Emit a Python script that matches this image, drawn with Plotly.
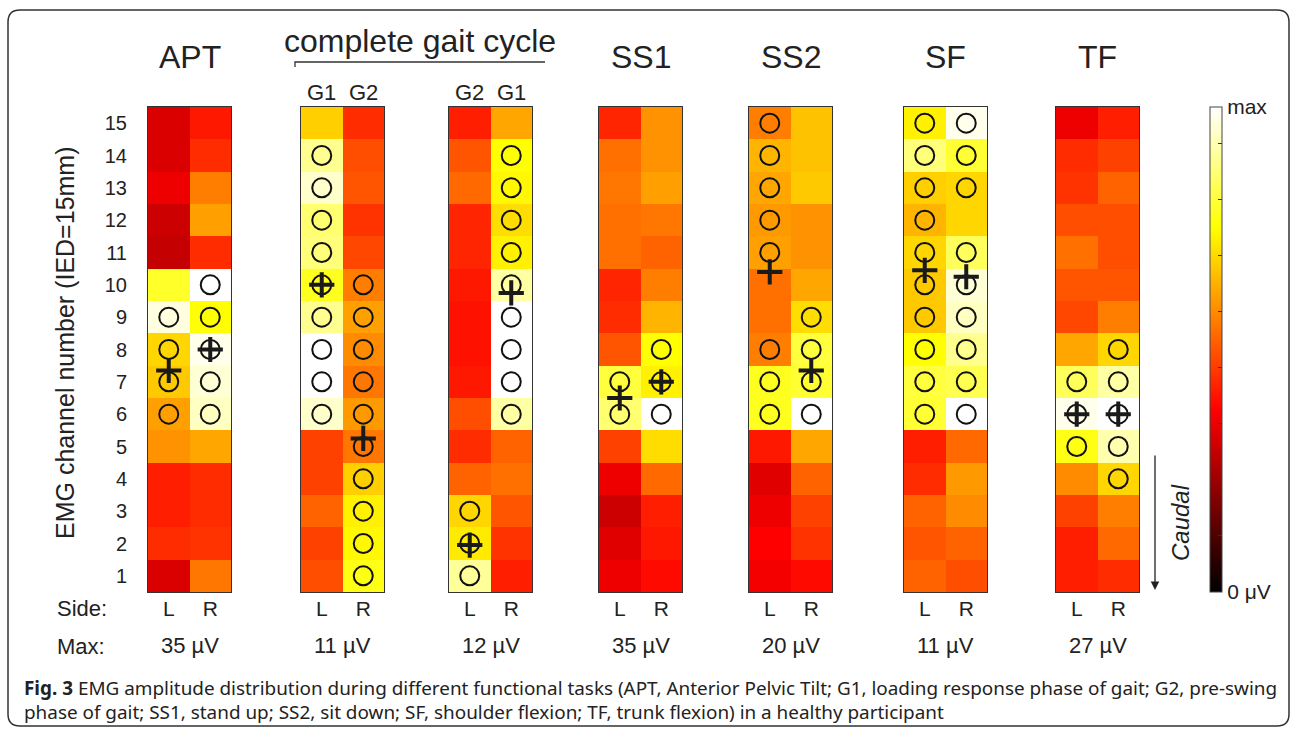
import plotly.graph_objects as go

W, H = 1296, 731

# ---------------- data ----------------
channels = list(range(1, 16))          # EMG channel numbers (bottom -> top)
side_labels = ["L", "R"]

panel_titles = ["APT", "", "", "SS1", "SS2", "SF", "TF"]
max_labels = ["35 µV", "11 µV", "12 µV", "35 µV", "20 µV", "11 µV", "27 µV"]
gait_top_labels = [("G1", "G2"), ("G2", "G1")]

# normalised amplitude (0 = 0 µV, 1 = max), channel 1 -> 15
apt_L = [0.32, 0.44, 0.42, 0.42, 0.59, 0.61, 0.67, 0.69, 0.97, 0.79, 0.29, 0.30, 0.35, 0.32, 0.32]
apt_R = [0.55, 0.45, 0.44, 0.44, 0.62, 0.94, 0.96, 0.98, 0.75, 1.00, 0.44, 0.61, 0.56, 0.44, 0.41]
g12_L = [0.49, 0.47, 0.52, 0.47, 0.47, 0.95, 1.00, 1.00, 0.89, 0.78, 0.87, 0.86, 0.95, 0.89, 0.68]
g12_R = [0.77, 0.74, 0.73, 0.68, 0.55, 0.60, 0.55, 0.58, 0.61, 0.56, 0.48, 0.45, 0.50, 0.49, 0.44]
g21_L = [0.90, 0.72, 0.69, 0.52, 0.44, 0.49, 0.41, 0.40, 0.40, 0.41, 0.43, 0.43, 0.53, 0.50, 0.42]
g21_R = [0.42, 0.45, 0.50, 0.54, 0.52, 0.91, 1.00, 1.00, 1.00, 0.91, 0.73, 0.70, 0.74, 0.75, 0.62]
ss1_L = [0.35, 0.33, 0.30, 0.35, 0.47, 0.86, 0.81, 0.50, 0.44, 0.43, 0.54, 0.54, 0.55, 0.54, 0.43]
ss1_R = [0.39, 0.41, 0.42, 0.53, 0.70, 1.00, 0.73, 0.75, 0.64, 0.56, 0.52, 0.55, 0.61, 0.59, 0.59]
ss2_L = [0.36, 0.375, 0.35, 0.33, 0.41, 0.78, 0.78, 0.56, 0.54, 0.54, 0.61, 0.60, 0.62, 0.64, 0.56]
ss2_R = [0.39, 0.45, 0.47, 0.52, 0.62, 1.00, 0.80, 0.81, 0.70, 0.62, 0.59, 0.59, 0.67, 0.66, 0.66]
sf_L = [0.52, 0.50, 0.52, 0.44, 0.42, 0.80, 0.81, 0.75, 0.67, 0.67, 0.69, 0.64, 0.68, 0.87, 0.73]
sf_R = [0.49, 0.52, 0.58, 0.60, 0.53, 1.00, 0.83, 0.89, 0.94, 0.96, 0.84, 0.69, 0.69, 0.80, 0.98]
tf_L = [0.42, 0.42, 0.47, 0.58, 0.77, 0.98, 0.84, 0.62, 0.48, 0.50, 0.54, 0.49, 0.45, 0.44, 0.35]
tf_R = [0.44, 0.53, 0.56, 0.69, 0.92, 1.00, 0.91, 0.69, 0.56, 0.50, 0.49, 0.49, 0.52, 0.47, 0.42]

# channels marked with circles (active region)
apt_L_act = [6, 7, 8, 9]
apt_R_act = [6, 7, 8, 9, 10]
g12_L_act = [6, 7, 8, 9, 10, 11, 12, 13, 14]
g12_R_act = [1, 2, 3, 4, 5, 6, 7, 8, 9, 10]
g21_L_act = [1, 2, 3]
g21_R_act = [6, 7, 8, 9, 10, 11, 12, 13, 14]
ss1_L_act = [6, 7]
ss1_R_act = [6, 7, 8]
ss2_L_act = [6, 7, 8, 11, 12, 13, 14, 15]
ss2_R_act = [6, 7, 8, 9]
sf_L_act = [6, 7, 8, 9, 10, 11, 12, 13, 14, 15]
sf_R_act = [6, 7, 8, 9, 10, 11, 13, 14, 15]
tf_L_act = [5, 6, 7]
tf_R_act = [4, 5, 6, 7, 8]

# centroid (L, R) in channel units
apt_cent = [7.35, 8.0]
g12_cent = [10.0, 5.25]
g21_cent = [1.95, 9.75]
ss1_cent = [6.5, 7.0]
ss2_cent = [10.4, 7.35]
sf_cent = [10.45, 10.25]
tf_cent = [6.0, 6.0]

panels = [
    (apt_L, apt_R, apt_L_act, apt_R_act, apt_cent),
    (g12_L, g12_R, g12_L_act, g12_R_act, g12_cent),
    (g21_L, g21_R, g21_L_act, g21_R_act, g21_cent),
    (ss1_L, ss1_R, ss1_L_act, ss1_R_act, ss1_cent),
    (ss2_L, ss2_R, ss2_L_act, ss2_R_act, ss2_cent),
    (sf_L, sf_R, sf_L_act, sf_R_act, sf_cent),
    (tf_L, tf_R, tf_L_act, tf_R_act, tf_cent),
]

# ---------------- layout helpers ----------------
panel_left_px = [148, 301, 449, 599, 749, 904, 1056]
panel_w_px = 83
top_px, bot_px = 107, 592
FONT = "Liberation Sans, Arial, sans-serif"
CAP_FONT = "Noto Sans, Open Sans, sans-serif"
TXT = "#222222"


def fx(px):
    return px / W


def fy(py):
    return 1 - py / H


hot = [[0.0, "rgb(0,0,0)"], [0.375, "rgb(255,0,0)"],
       [0.75, "rgb(255,255,0)"], [1.0, "rgb(255,255,255)"]]

cb_tickvals = [0.0] + [0.1157 * k for k in range(1, 9)] + [1.0]
cb_ticktext = ["0 μV"] + [""] * 8 + ["max"]

fig = go.Figure()
layout = {}
annotations = []

for i, (L, R, aL, aR, cent) in enumerate(panels):
    sfx = "" if i == 0 else str(i + 1)
    xa, ya = "x" + sfx, "y" + sfx
    z = [[L[c], R[c]] for c in range(len(channels))]
    hm = dict(z=z, x=[0, 1], y=channels, colorscale=hot, zmin=0, zmax=1,
              xaxis=xa, yaxis=ya, showscale=(i == 0), hoverinfo="skip")
    if i == 0:
        hm["colorbar"] = dict(
            x=fx(1210), xanchor="left", xref="paper", xpad=0, ypad=0,
            y=fy((top_px + bot_px) / 2), yanchor="middle",
            len=(bot_px - top_px) / H, lenmode="fraction",
            thickness=12, thicknessmode="pixels",
            outlinewidth=1, outlinecolor="#444444",
            tickvals=cb_tickvals, ticktext=cb_ticktext,
            ticks="inside", ticklen=4, tickcolor="#333333",
            tickfont=dict(size=21, color=TXT, family=FONT),
        )
    fig.add_trace(go.Heatmap(**hm))
    fig.add_trace(go.Scatter(
        x=[0] * len(aL) + [1] * len(aR), y=aL + aR, mode="markers",
        marker=dict(symbol="circle-open", size=19, color="#111111", line=dict(width=2)),
        xaxis=xa, yaxis=ya, hoverinfo="skip", showlegend=False, cliponaxis=False))
    fig.add_trace(go.Scatter(
        x=[0, 1], y=cent, mode="markers",
        marker=dict(symbol="cross-thin-open", size=18, color="#1a1a1a", line=dict(width=4)),
        xaxis=xa, yaxis=ya, hoverinfo="skip", showlegend=False, cliponaxis=False))

    left = panel_left_px[i]
    layout["xaxis" + sfx] = dict(
        domain=[fx(left), fx(left + panel_w_px)], range=[-0.5, 1.5], anchor=ya,
        tickvals=[0, 1], ticktext=side_labels, ticks="", ticklabelstandoff=-2,
        tickfont=dict(size=21, color=TXT, family=FONT),
        showline=True, mirror=True, linecolor="#333333", linewidth=1,
        showgrid=False, zeroline=False, fixedrange=True)
    layout["yaxis" + sfx] = dict(
        domain=[fy(bot_px), fy(top_px)], range=[0.5, 15.5], anchor=xa,
        tickvals=channels, ticks="", showticklabels=(i == 0), ticklabelstandoff=16,
        tickfont=dict(size=20, color=TXT, family=FONT),
        showline=True, mirror=True, linecolor="#333333", linewidth=1,
        showgrid=False, zeroline=False, fixedrange=True)

    cx = left + panel_w_px / 2
    if panel_titles[i]:
        annotations.append(dict(x=fx(cx), y=fy(57), text=panel_titles[i], showarrow=False,
                                xref="paper", yref="paper", xanchor="center", yanchor="middle",
                                font=dict(size=32, color=TXT, family=FONT)))
    annotations.append(dict(x=fx(cx), y=fy(645), text=max_labels[i], showarrow=False,
                            xref="paper", yref="paper", xanchor="center", yanchor="middle",
                            font=dict(size=22, color=TXT, family=FONT)))

# gait sub-labels
for gi, pi in enumerate([1, 2]):
    left = panel_left_px[pi]
    for k, lab in enumerate(gait_top_labels[gi]):
        cx = left + panel_w_px * (0.25 + 0.5 * k)
        annotations.append(dict(x=fx(cx), y=fy(92), text=lab, showarrow=False,
                                xref="paper", yref="paper", xanchor="center", yanchor="middle",
                                font=dict(size=22, color=TXT, family=FONT)))

annotations += [
    dict(x=fx(420), y=fy(41), text="complete gait cycle", showarrow=False,
         xref="paper", yref="paper", xanchor="center", yanchor="middle",
         font=dict(size=32, color=TXT, family=FONT)),
    dict(x=fx(65), y=fy(343), text="EMG channel number (IED=15mm)", showarrow=False,
         textangle=-90, xref="paper", yref="paper", xanchor="center", yanchor="middle",
         font=dict(size=25, color=TXT, family=FONT)),
    dict(x=fx(55), y=fy(608), text="Side:", showarrow=False,
         xref="paper", yref="paper", xanchor="left", yanchor="middle",
         font=dict(size=22, color=TXT, family=FONT)),
    dict(x=fx(55), y=fy(646), text="Max:", showarrow=False,
         xref="paper", yref="paper", xanchor="left", yanchor="middle",
         font=dict(size=22, color=TXT, family=FONT)),
    dict(x=fx(1180), y=fy(523), text="<i>Caudal</i>", showarrow=False, textangle=-90,
         xref="paper", yref="paper", xanchor="center", yanchor="middle",
         font=dict(size=24, color=TXT, family=FONT)),
    dict(x=fx(1155), y=fy(590), ax=0, ay=-136, text="", showarrow=True,
         xref="paper", yref="paper", arrowhead=2, arrowsize=1.3, arrowwidth=1.3,
         arrowcolor="#222222"),
    dict(x=fx(22), y=fy(688), text="<b>Fig. 3</b> EMG amplitude distribution during different functional tasks (APT, Anterior Pelvic Tilt; G1, loading response phase of gait; G2, pre-swing",
         showarrow=False, xref="paper", yref="paper", xanchor="left", yanchor="middle",
         font=dict(size=18.9, color=TXT, family=CAP_FONT)),
    dict(x=fx(22), y=fy(712), text="phase of gait; SS1, stand up; SS2, sit down; SF, shoulder flexion; TF, trunk flexion) in a healthy participant",
         showarrow=False, xref="paper", yref="paper", xanchor="left", yanchor="middle",
         font=dict(size=18.9, color=TXT, family=CAP_FONT)),
]

# rounded outer frame and bracket
x0, y0, x1, y1, r = fx(8), fy(10), fx(1289), fy(726), 12
rx, ry = r / W, r / H
frame = (f"M {x0+rx},{y0} L {x1-rx},{y0} Q {x1},{y0} {x1},{y0-ry} "
         f"L {x1},{y1+ry} Q {x1},{y1} {x1-rx},{y1} L {x0+rx},{y1} "
         f"Q {x0},{y1} {x0},{y1+ry} L {x0},{y0-ry} Q {x0},{y0} {x0+rx},{y0} Z")
shapes = [
    dict(type="path", path=frame, xref="paper", yref="paper",
         line=dict(color="#333333", width=1.5)),
    dict(type="path", xref="paper", yref="paper",
         path=f"M {fx(295)},{fy(67)} L {fx(295)},{fy(62)} L {fx(545)},{fy(62)}",
         line=dict(color="#333333", width=1.3)),
]

fig.update_layout(
    width=W, height=H, margin=dict(l=0, r=0, t=0, b=0),
    paper_bgcolor="white", plot_bgcolor="white",
    showlegend=False, annotations=annotations, shapes=shapes,
    font=dict(family=FONT, color=TXT),
    **layout,
)

fig.write_html("out.html", config={"displayModeBar": False},
               post_script="document.body.style.margin='0px';document.body.style.overflow='hidden';")
